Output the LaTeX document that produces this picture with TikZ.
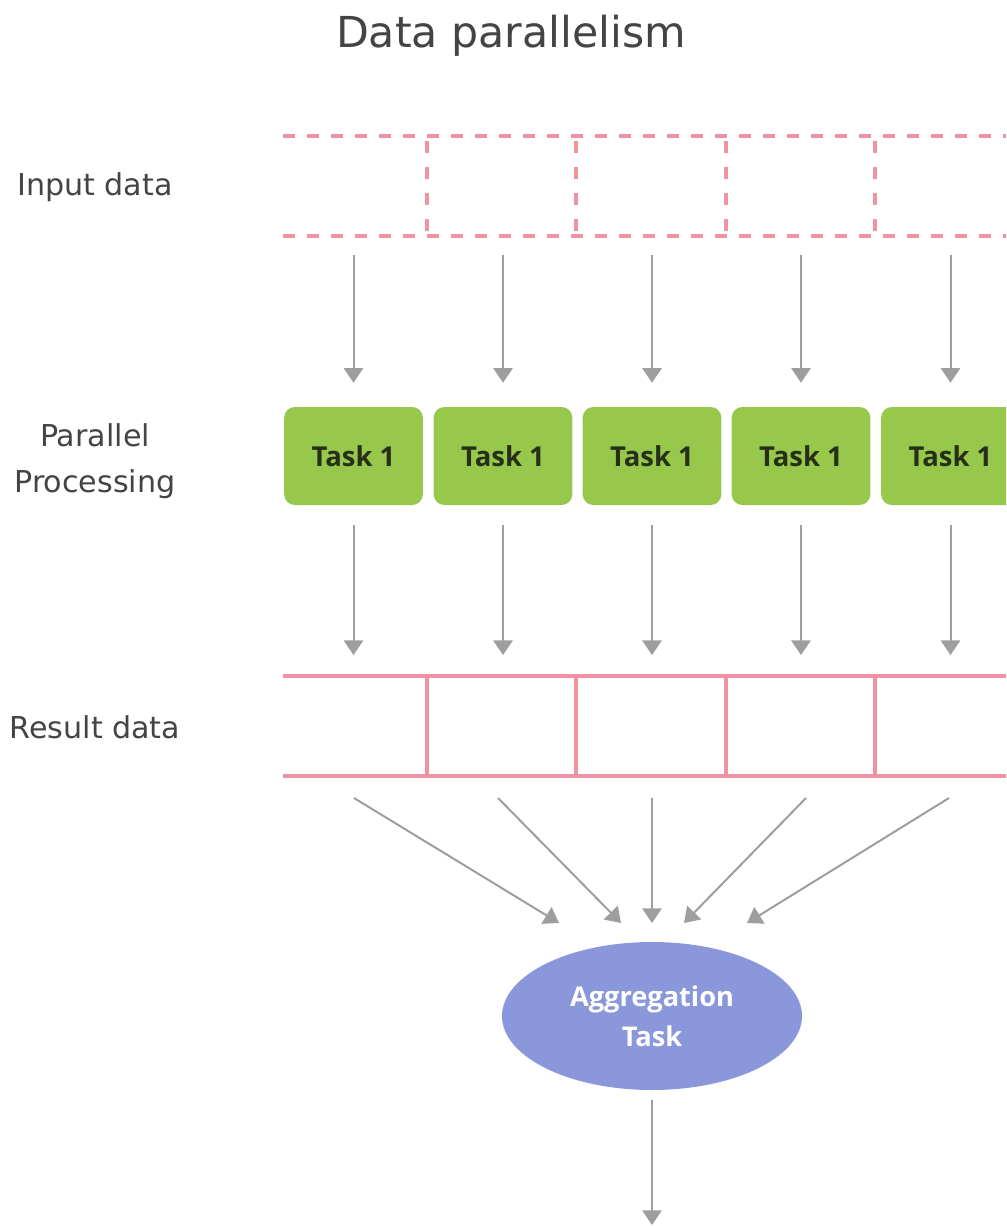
\documentclass[tikz,border=0pt]{standalone}
\usepackage{fontspec}
\setmainfont{DejaVu Sans}
\newfontfamily\boxfont{Open Sans}
\usetikzlibrary{arrows.meta,shapes.geometric}
\definecolor{pinkline}{RGB}{240,146,162}
\definecolor{arrowgray}{RGB}{158,158,158}
\definecolor{taskgreen}{RGB}{151,200,76}
\definecolor{tasktext}{RGB}{38,48,24}
\definecolor{aggblue}{RGB}{138,151,219}
\definecolor{labelgray}{RGB}{68,68,68}
\begin{document}
\begin{tikzpicture}[x=0.75pt,y=-0.75pt,
  flow/.style={draw=arrowgray,line width=1.5pt,-{Triangle[width=14.5pt,length=11pt]}},
  cell/.style={rectangle,minimum width=105pt,minimum height=75pt,inner sep=0pt},
  taskbox/.style={rectangle,rounded corners=8pt,fill=taskgreen,minimum width=104pt,minimum height=73.5pt,inner sep=0pt,font=\boxfont\fontsize{20.6}{24}\selectfont\bfseries,text=tasktext},
  sidelabel/.style={font=\fontsize{22.6}{34.5}\selectfont,text=labelgray,align=center},
  pinkl/.style={draw=pinkline,line width=2.4pt},
  aggnode/.style={ellipse,fill=aggblue,minimum width=225pt,minimum height=111pt,inner sep=0pt,font=\boxfont\fontsize{20.4}{30}\selectfont\bfseries,text=white,align=center}]
\useasboundingbox (0,0) rectangle (1006,1226);
\clip (0,0) rectangle (1006,1226);
% title
\node[font=\fontsize{32}{38}\selectfont,text=labelgray] (title) at (511,36) {Data parallelism};
% side labels
\node[sidelabel] (linput) at (95,187) {Input data};
\node[sidelabel] (lpar) at (95,461) {Parallel\\Processing};
\node[sidelabel] (lres) at (95,727) {Result data};
% input data (dashed)
\draw[pinkl,dash pattern=on 9pt off 9pt] (283,136) -- (1030,136);
\draw[pinkl,dash pattern=on 9pt off 9pt] (283,236) -- (1030,236);
\foreach \x in {427,576,726,875}
  \draw[pinkl,dash pattern=on 9pt off 10.5pt,dash phase=-4pt] (\x,136) -- (\x,236);
% result data (solid)
\draw[pinkl] (283,676) -- (1030,676);
\draw[pinkl] (283,776) -- (1030,776);
\foreach \x in {427,576,726,875}
  \draw[pinkl] (\x,676) -- (\x,776);
% cells, tasks
\foreach \i/\x in {1/353.5,2/503,3/652,4/801,5/950.5}{
  \node[cell] (i\i) at (\x,186) {};
  \node[taskbox] (t\i) at (\x,456) {Task 1};
  \node[cell] (r\i) at (\x,726) {};
}
\foreach \i in {1,...,5}{
  \draw[flow,shorten <=14pt,shorten >=18pt] (i\i.south) -- (t\i.north);
  \draw[flow,shorten <=15pt,shorten >=15.5pt] (t\i.south) -- (r\i.north);
}
% aggregation
\node[aggnode] (agg) at (652,1016) {Aggregation\\Task};
\coordinate (s1) at (354,798);
\coordinate (s2) at (498,798);
\coordinate (s3) at (652,798);
\coordinate (s4) at (806,798);
\coordinate (s5) at (949,798);
\coordinate (e1) at (559,923);
\coordinate (e2) at (621,923);
\coordinate (e3) at (652,923);
\coordinate (e4) at (684,923);
\coordinate (e5) at (747,923);
\foreach \i in {1,...,5}
  \draw[flow] (s\i) -- (e\i);
\coordinate (out) at (652,1225);
\draw[flow,shorten <=7.5pt] (agg.south) -- (out);
\end{tikzpicture}
\end{document}
